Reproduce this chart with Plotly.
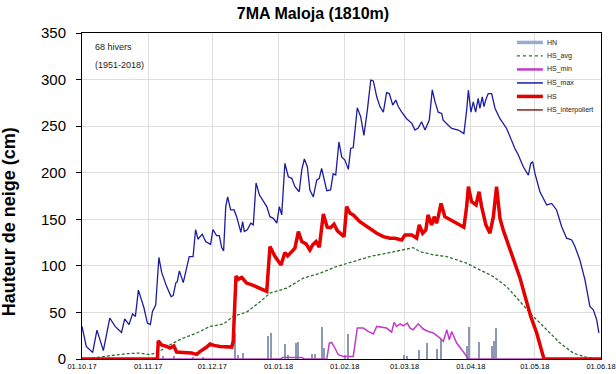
import pandas as pd
import plotly.graph_objects as go

# ---------------- data (days since 01.10.2017, value in cm) ----------------
START = "2017-10-01"

hsmax_days = [0, 2, 5, 7, 10, 13, 15.5, 18.5, 20, 22, 23.7, 25, 26.4, 28, 29, 30.6, 32, 33, 34.5, 36, 37.3,
              39.6, 41.7, 42.7, 43.9, 44.6, 45.6, 47.4, 49, 50.2, 52, 53.2, 54.3, 56.3, 57.9, 60.2, 61.3, 63,
              64.3, 65.4, 66.3, 67.3, 68.2, 69.6, 71.2, 72.4, 74.4, 75.2, 76, 77.4, 79, 80.2, 81.5, 83.1, 86.5,
              88, 89.6, 91.2, 92.4, 93.5, 95, 96.6, 98.2, 99.7, 101.7, 102.9, 104.1, 105.5, 106.7, 108.3,
              109.9, 111.1, 112.2, 113.3, 114.6, 116.4, 117.6, 118.8, 120.3, 121.6, 123.1, 124.7, 125.8, 127,
              128.9, 130.5, 132, 133.6, 135.2, 136.4, 138, 139.5, 141.1, 142.6, 143.9, 145.5, 146.9, 148.1,
              149.7, 152, 154.4, 155.9, 157.4, 159, 160.6, 162.6, 164, 165.3, 166.8, 168.4, 169.1, 171.5,
              173.1, 176.2, 178.8, 180.1, 180.9, 182.1, 183.2, 184.3, 185.5, 186.3, 187.4, 188.2, 189.1,
              190.2, 191.8, 193.4, 195.7, 198.8, 200.4, 202.7, 204.3, 206.6, 209, 210.1, 211, 212.1, 214.4,
              217.6, 219.9, 222.2, 224.6, 226.9, 229.3, 230.8, 233.1, 235.5, 237.8, 239.4, 241, 242]
hsmax_vals = [35, 13.5, 7, 31, 9, 44, 35, 28.5, 43, 37, 48.5, 45.7, 74, 62, 55, 38.6, 37, 51, 58, 109, 93,
              78, 67, 68, 81.5, 83, 94.6, 82, 98.6, 110, 110, 139, 128.6, 134, 126, 123, 139, 132.5,
              132.5, 119.6, 116, 163.6, 174, 160, 160, 152.8, 136, 147.5, 136.8, 138.6, 145.8, 144, 189, 176, 163.6,
              152.8, 151, 145.8, 163.6, 154.7, 210, 195.7, 194, 185, 179.6, 203, 214.7, 206.4, 181.5, 174,
              192, 194, 204.7, 192, 180.7, 181.5, 199, 197.5, 233, 217, 213.6, 203.6, 226, 227,
              269.7, 260, 240, 267, 299.5, 298.6, 281.5, 271, 265, 286, 285, 272.5, 278, 271,
              265, 258, 253, 245.8, 248, 254.7, 245.8, 256.5, 289, 276, 265, 263.7, 256.5, 251,
              247.5, 245.8, 242, 267, 288.6, 265, 276, 265, 279.7, 269, 281.5, 271, 278.7,
              285, 285, 269, 258, 247.5, 238.6, 226, 219, 206.4, 197.5, 210, 211.8, 199, 179.6,
              165.4, 167, 160, 142, 129.7, 127.8, 120.7, 106.4, 85, 56.4, 52.8, 42, 28]

hs_days = [0, 35.3, 35.7, 37.3, 39.6, 41.2, 43, 44.3, 47.4, 51.3, 53.7, 55.2, 58.4, 59.9, 61.8, 64.6, 70.1,
           70.8, 72.1, 73.2, 74.8, 77.1, 80.2, 83, 86.5, 88, 90.4, 93.2, 95, 96.3, 98.2, 99.7, 101.3, 102.9,
           104.9, 106.7, 108, 109.6, 111.1, 113, 114.8, 116.4, 118, 119.5, 122.7, 123.9, 125.5, 127, 130.1,
           133.3, 138, 141.1, 144.2, 146.5, 149.7, 151.2, 154.4, 156.7, 157.9, 159.5, 161, 162, 163.7, 164.9,
           166, 166.8, 168.1, 169.9, 172.3, 175.4, 178.8, 180.1, 180.9, 182.4, 184.5, 185.9, 187.1, 189.1,
           191, 192.6, 194.1, 195.7, 197.2, 199.1, 201.9, 205.1, 207.9, 210.1, 212.9, 215.2, 216.3, 243]
hs_vals = [0, 0, 19.6, 15, 13.5, 11.8, 14, 7.5, 7, 6.4, 5, 8, 12.8, 16, 14.6, 13.5, 12.8,
           19, 89, 85.7, 87.5, 81.5, 79, 76, 72.5, 120.7, 110, 101, 114.3, 110.7, 115.3, 119, 136.8, 126,
           123.6, 117, 122.5, 126, 120, 155.7, 141.5, 141, 144.7, 137.8, 131.4, 163.6, 156.5, 154.7, 147.5,
           142, 135, 131.4, 129.7, 129.7, 127.8, 133.2, 133.2, 129.7, 144, 135, 138.6, 154.7, 144, 152.8,
           145.8, 152.8, 167, 152.8, 149.3, 145.8, 141.5, 163.6, 185, 169, 165.4, 179.6, 163.6, 144,
           135, 152.8, 185, 151, 138.6, 126, 110, 86.8, 63.6, 45.7, 27.9, 10, 0, 0]

hsavg_days = [0, 5, 13.1, 20.9, 27.2, 31.8, 35.7, 41.2, 47.4, 53.7, 59.9, 66.2, 70.8, 77.1, 83, 88, 95.8,
              103.6, 111.4, 119.2, 127, 134.8, 142.6, 150.4, 155.1, 158.2, 164.5, 170.7, 180.1, 186.3,
              192.6, 198.8, 205.1, 211.3, 217.6, 223.8, 230, 236.3, 242.5]
hsavg_vals = [0, 1, 3.5, 5.7, 6.4, 4.6, 7.5, 15.3, 22.5, 27.9, 35, 37.5, 45.7, 50.4, 60.7, 70.7, 76,
              86.8, 92, 99.3, 104.6, 110, 113.6, 117, 119.5, 115.3, 111.8, 110, 102.9, 95.7,
              88.5, 77.8, 61.7, 45.7, 31.4, 17.1, 6.4, 1.7, 0]

hsmin_days = [35, 93, 94, 103, 104, 114.6, 115.8, 116.9, 118.4, 120, 122.3, 127, 128.9, 131.7, 134, 136.4,
              138, 140.3, 142.6, 145, 146.1, 147.3, 148.9, 150.4, 152.3, 153.6, 155.1, 157.4, 159.8,
              162.1, 164.5, 167.6, 169.2, 170.8, 172, 173.1, 175.4, 177.8, 179.3, 180.9, 216]
hsmin_vals = [0, 0, 1.5, 1.5, 0, 0, 17, 17.8, 11.8, 4.6, 2.8, 2.8, 33.2, 33.2, 29.6, 26.8,
              35, 34.3, 33.2, 28.9, 39.2, 35, 37.8, 35.7, 38.6, 33.2, 31.4, 37.8, 32.2,
              29.6, 27.9, 22.5, 18.9, 31.4, 20.7, 29.6, 17.1, 10, 4.6, 0, 0]

hn_days = [38.1, 43.2, 52, 56.8, 71.6, 73.2, 75.5, 87.2, 88.3, 95, 96.6, 100.2, 101.3, 107.5, 109.1, 112.2,
           113.3, 123.1, 124.4, 150.9, 152, 157.9, 161.8, 166.1, 168.2, 180.2, 181.2, 185.9, 191.8, 192.9,
           193.8]
hn_vals = [3.5, 3, 2, 2, 28, 4.6, 6.5, 25, 27.5, 16, 4.6, 17, 17.8, 5, 5.7, 34,
           11.8, 4.6, 27, 4.3, 3.5, 9.5, 17.5, 10.7, 21.5, 13.5, 34.5, 18, 13.5, 18.9,
           33.5]

tick_dates = ["2017-10-01", "2017-11-01", "2017-12-01", "2018-01-01", "2018-02-01",
              "2018-03-01", "2018-04-01", "2018-05-01", "2018-06-01"]
tick_labels = ["01.10.17", "01.11.17", "01.12.17", "01.01.18", "01.02.18",
               "01.03.18", "01.04.18", "01.05.18", "01.06.18"]

legend_names = ["HN", "HS_avg", "HS_min", "HS_max", "HS", "HS_interpoliert"]


def to_dates(days):
    return pd.Timestamp(START) + pd.to_timedelta(days, unit="D")


C_HN = "#8d99b3"
C_AVG = "#2f6e2f"
C_MIN = "#c13cc8"
C_MAX = "#1c1ca0"
C_HS = "#e60000"
C_INT = "#7a0000"

fig = go.Figure()
fig.add_trace(go.Bar(x=to_dates(hn_days), y=hn_vals, name="HN", marker_color=C_HN,
                     marker_line_width=0, width=0.55 * 86400000, showlegend=False))
fig.add_trace(go.Scatter(x=to_dates(hsavg_days), y=hsavg_vals, name="HS_avg", mode="lines",
                         line=dict(color=C_AVG, width=1.3, dash="3px,2px"), showlegend=False))
fig.add_trace(go.Scatter(x=to_dates(hsmin_days), y=hsmin_vals, name="HS_min", mode="lines",
                         line=dict(color=C_MIN, width=1.5), showlegend=False))
fig.add_trace(go.Scatter(x=to_dates(hsmax_days), y=hsmax_vals, name="HS_max", mode="lines",
                         line=dict(color=C_MAX, width=1.3), showlegend=False))
fig.add_trace(go.Scatter(x=to_dates(hs_days), y=hs_vals, name="HS", mode="lines",
                         line=dict(color=C_HS, width=3.5), showlegend=False))

# ---- legend drawn as text + sample lines (top right inside plot) ----
leg_styles = [
    dict(color="#9aabcb", width=3.5),
    dict(color=C_AVG, width=1.3, dash="dot"),
    dict(color=C_MIN, width=2.5),
    dict(color=C_MAX, width=1.5),
    dict(color=C_HS, width=3.5),
    dict(color=C_INT, width=1.3),
]
leg_y0 = 0.971
leg_dy = 0.0414
for i, (nm, st) in enumerate(zip(legend_names, leg_styles)):
    y = leg_y0 - i * leg_dy
    fig.add_shape(type="line", xref="paper", yref="paper", x0=0.838, x1=0.888, y0=y, y1=y, line=st)
    fig.add_annotation(xref="paper", yref="paper", x=0.892, y=y, text=nm, showarrow=False,
                       xanchor="left", yanchor="middle",
                       font=dict(family="Liberation Sans, Arial", size=7, color="#222"))

fig.add_annotation(xref="paper", yref="paper", x=0.022, y=0.958, text="68 hivers", showarrow=False,
                   xanchor="left", yanchor="middle", font=dict(family="Liberation Sans, Arial", size=9, color="#222"))
fig.add_annotation(xref="paper", yref="paper", x=0.022, y=0.903, text="(1951-2018)", showarrow=False,
                   xanchor="left", yanchor="middle", font=dict(family="Liberation Sans, Arial", size=9, color="#222"))

# y-axis title (placed like in the reference, slightly below the axis centre)
fig.add_annotation(xref="paper", yref="paper", x=-0.139, y=0.422, text="<b>Hauteur de neige (cm)</b>",
                   showarrow=False, textangle=-90, xanchor="center", yanchor="middle",
                   font=dict(family="Liberation Sans, Arial", size=18, color="#000"))

fig.update_layout(
    width=616, height=374,
    margin=dict(l=82, r=15, t=33, b=15, autoexpand=False),
    paper_bgcolor="white", plot_bgcolor="white",
    title=dict(text="<b>7MA Maloja (1810m)</b>", x=0.508, xref="container", xanchor="center",
               y=0.965, yref="container", yanchor="middle",
               font=dict(family="Liberation Sans, Arial", size=16, color="#000")),
    bargap=0,
    showlegend=False,
)
fig.update_xaxes(
    type="date", range=[pd.Timestamp("2017-10-01"), pd.Timestamp("2018-06-01")],
    tickvals=pd.to_datetime(tick_dates), ticktext=tick_labels,
    tickfont=dict(family="Liberation Sans, Arial", size=7.5, color="#000"),
    showgrid=True, gridcolor="#dedede", gridwidth=1, automargin=False,
    showline=True, linecolor="#000", linewidth=1, mirror=True,
    ticks="", ticklabelstandoff=0, ticklabeloverflow="allow", zeroline=False,
)
fig.update_yaxes(
    range=[0, 350], tickvals=[0, 50, 100, 150, 200, 250, 300, 350],
    tickfont=dict(family="Liberation Sans, Arial", size=15, color="#000"),
    showgrid=True, gridcolor="#dedede", gridwidth=1, automargin=False,
    showline=True, linecolor="#000", linewidth=1, mirror=True,
    ticks="outside", ticklen=5, tickcolor="#000", ticklabelstandoff=7, zeroline=False,
)

fig.write_html("out.html", config={"displayModeBar": False},
               post_script="document.body.style.margin='0';document.body.style.overflow='hidden';")
